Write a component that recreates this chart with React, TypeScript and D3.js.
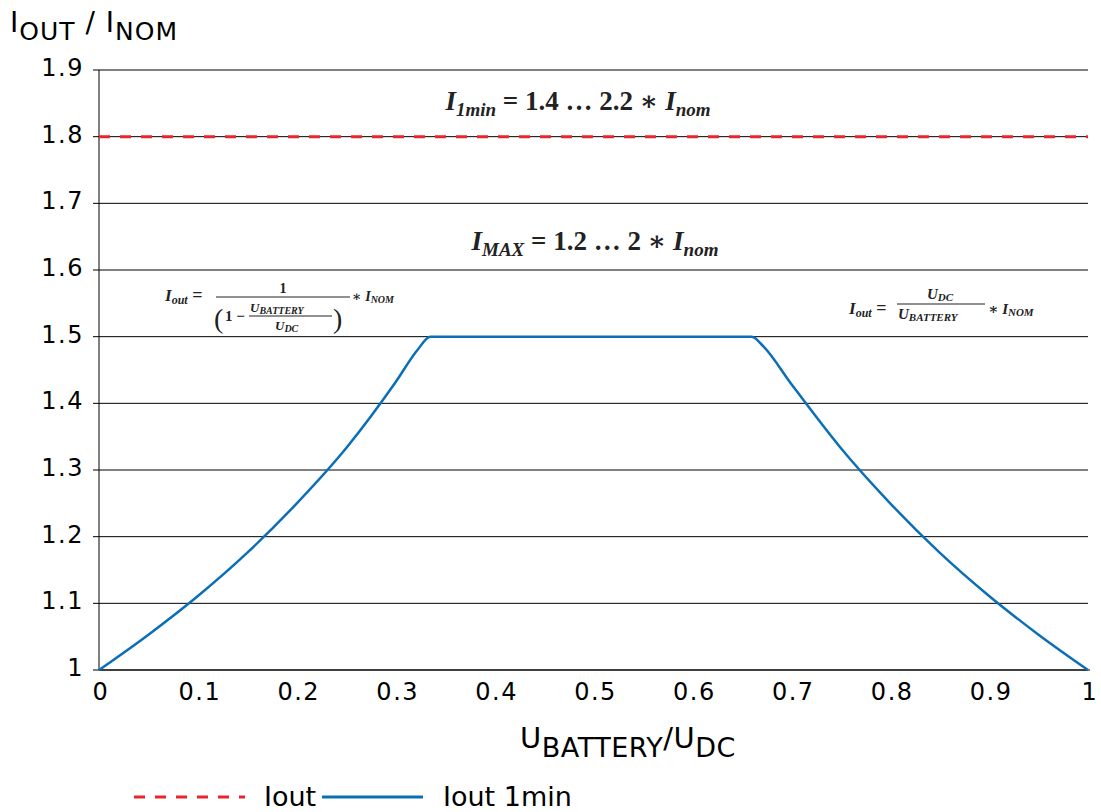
import React from "react";
import * as d3 from "d3";

const yTicks = [1, 1.1, 1.2, 1.3, 1.4, 1.5, 1.6, 1.7, 1.8, 1.9];
const xTicks = [0, 0.1, 0.2, 0.3, 0.4, 0.5, 0.6, 0.7, 0.8, 0.9, 1];
const xTickLabels = ["0", "0.1", "0.2", "0.3", "0.4", "0.5", "0.6", "0.7", "0.8", "0.9", "1"];
const yTickLabels = ["1", "1.1", "1.2", "1.3", "1.4", "1.5", "1.6", "1.7", "1.8", "1.9"];

const curveX = [0, 0.05, 0.1, 0.15, 0.2, 0.25, 0.3, 0.322, 0.335, 0.4, 0.5, 0.6, 0.66, 0.672, 0.7, 0.75, 0.8, 0.85, 0.9, 0.95, 1];
const curveY = [1, 1.053, 1.111, 1.176, 1.25, 1.333, 1.432, 1.48, 1.5, 1.5, 1.5, 1.5, 1.5, 1.485, 1.429, 1.333, 1.25, 1.176, 1.111, 1.053, 1];
const dashedLevel = 1.8;

const seriesNames = ["Iout", "Iout 1min"];

const RED = "#e8262b";
const BLUE = "#0b6fb8";
const FONT = "Verdana, 'DejaVu Sans', sans-serif";
const MATH = "'Liberation Serif', 'DejaVu Serif', serif";

export default function App() {
  const W = 1101, H = 812;
  const x = d3.scaleLinear().domain([0, 1]).range([99, 1088]);
  const y = d3.scaleLinear().domain([1, 1.9]).range([670, 70]);
  const pts: [number, number][] = curveX.map((v, i) => [v, curveY[i]]);
  const line = d3
    .line<[number, number]>()
    .x((d) => x(d[0]))
    .y((d) => y(d[1]))
    .curve(d3.curveMonotoneX);

  return (
    <svg width={W} height={H} style={{ position: "absolute", left: 0, top: 0, background: "#fff" }}>
      <rect width={W} height={H} fill="#fff" />
      {yTicks.map((t) => (
        <line key={t} x1={93} x2={x(1)} y1={y(t)} y2={y(t)} stroke="#000" strokeWidth={1} />
      ))}
      <line x1={x(0)} x2={x(0)} y1={y(1.9)} y2={y(1)} stroke="#000" strokeWidth={1} />
      <line x1={x(0)} x2={x(1) + 2} y1={y(1)} y2={y(1)} stroke="#000" strokeWidth={1} />
      {yTicks.map((t, i) => (
        <text key={t} x={84} y={y(t) + 6} textAnchor="end" fontFamily={FONT} fontSize={24} letterSpacing={1.5} fill="#000">
          {yTickLabels[i]}
        </text>
      ))}
      {xTicks.map((t, i) => (
        <text key={t} x={x(t) + 2} y={700} textAnchor="middle" fontFamily={FONT} fontSize={24} letterSpacing={1.5} fill="#000">
          {xTickLabels[i]}
        </text>
      ))}
      <line x1={x(0)} x2={x(1)} y1={y(dashedLevel)} y2={y(dashedLevel)} stroke={RED} strokeWidth={3} strokeDasharray="11,10" />
      <path d={line(pts) || ""} fill="none" stroke={BLUE} strokeWidth={2.5} />

      <text x={10} y={32} fontFamily={FONT} fontSize={28} fill="#000" letterSpacing={1}>
        I<tspan fontSize={25} dy={8}>OUT</tspan>
        <tspan dy={-8}> / I</tspan>
        <tspan fontSize={25} dy={8}>NOM</tspan>
      </text>
      <text x={628} y={748} textAnchor="middle" fontFamily={FONT} fontSize={29} fill="#000" letterSpacing={0.5}>
        U<tspan fontSize={27} dy={9}>BATTERY</tspan>
        <tspan dy={-9}>/U</tspan>
        <tspan fontSize={27} dy={9}>DC</tspan>
      </text>

      <text x={578} y={110} textAnchor="middle" fontFamily={MATH} fontSize={27} fontWeight="bold" fill="#222">
        <tspan fontStyle="italic">I</tspan>
        <tspan fontStyle="italic" fontSize={19} dy={6}>1min</tspan>
        <tspan dy={-6}> = 1.4 … 2.2 ∗ </tspan>
        <tspan fontStyle="italic">I</tspan>
        <tspan fontStyle="italic" fontSize={19} dy={6}>nom</tspan>
      </text>
      <text x={595} y={250} textAnchor="middle" fontFamily={MATH} fontSize={27} fontWeight="bold" fill="#222">
        <tspan fontStyle="italic">I</tspan>
        <tspan fontStyle="italic" fontSize={19} dy={6}>MAX</tspan>
        <tspan dy={-6}> = 1.2 … 2  ∗ </tspan>
        <tspan fontStyle="italic">I</tspan>
        <tspan fontStyle="italic" fontSize={19} dy={6}>nom</tspan>
      </text>

      <g fontFamily={MATH} fill="#222" fontWeight="bold">
        <text x={165} y={301} fontSize={17} fontStyle="italic">
          I<tspan fontSize={12} dy={3}>out</tspan>
          <tspan dy={-3} fontStyle="normal" fontSize={18}> =</tspan>
        </text>
        <text x={283} y={293} fontSize={14} textAnchor="middle">1</text>
        <line x1={216} x2={350} y1={297} y2={297} stroke="#222" strokeWidth={1} />
        <text x={214} y={328} fontSize={28} fontWeight="normal">(</text>
        <text x={225} y={321} fontSize={15}>1 −</text>
        <text x={250} y={312} fontSize={13} fontStyle="italic">
          U<tspan fontSize={10} dy={2}>BATTERY</tspan>
        </text>
        <line x1={249} x2={332} y1={316} y2={316} stroke="#222" strokeWidth={1} />
        <text x={275} y={330} fontSize={13} fontStyle="italic">
          U<tspan fontSize={10} dy={2}>DC</tspan>
        </text>
        <text x={333} y={328} fontSize={28} fontWeight="normal">)</text>
        <text x={352} y={301} fontSize={14}>
          ∗ <tspan fontStyle="italic">I</tspan>
          <tspan fontStyle="italic" fontSize={10} dy={2}>NOM</tspan>
        </text>
      </g>

      <g fontFamily={MATH} fill="#222" fontWeight="bold">
        <text x={849} y={314} fontSize={17} fontStyle="italic">
          I<tspan fontSize={12} dy={3}>out</tspan>
          <tspan dy={-3} fontStyle="normal" fontSize={18}> =</tspan>
        </text>
        <text x={940} y={299} fontSize={15} fontStyle="italic" textAnchor="middle">
          U<tspan fontSize={11} dy={2}>DC</tspan>
        </text>
        <line x1={897} x2={985} y1={304} y2={304} stroke="#222" strokeWidth={1} />
        <text x={898} y={319} fontSize={15} fontStyle="italic">
          U<tspan fontSize={11} dy={2}>BATTERY</tspan>
        </text>
        <text x={988} y={314} fontSize={15}>
          ∗ <tspan fontStyle="italic">I</tspan>
          <tspan fontStyle="italic" fontSize={11} dy={2}>NOM</tspan>
        </text>
      </g>

      <line x1={134} x2={245} y1={797} y2={797} stroke={RED} strokeWidth={3} strokeDasharray="11,10" />
      <text x={264} y={806} fontFamily={FONT} fontSize={27} fill="#000">{seriesNames[0]}</text>
      <line x1={322} x2={423} y1={797} y2={797} stroke={BLUE} strokeWidth={3} />
      <text x={443} y={806} fontFamily={FONT} fontSize={27} fill="#000">{seriesNames[1]}</text>
    </svg>
  );
}
